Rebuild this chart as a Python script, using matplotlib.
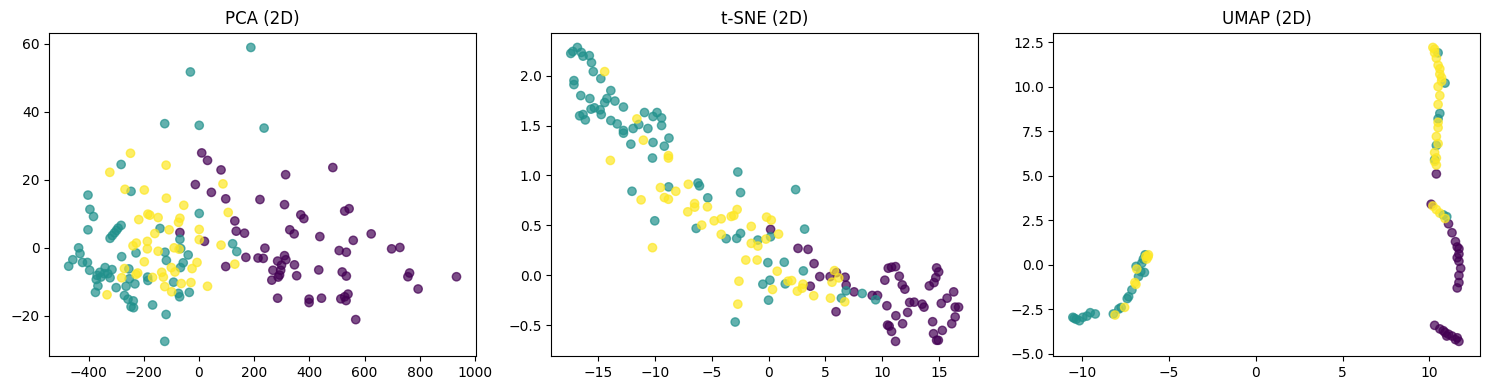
import numpy as np
import matplotlib
matplotlib.use("Agg")
import matplotlib.pyplot as plt

# ---- PCA (2D) ----
pca_0 = [(10,27.9),(31,25.7),(80,22.9),(-13,18.6),(45,16.3),(97,14.4),(221,14.2),(314,21.5),(485,23.6),
         (-69,4.5),(130,7.9),(135,4.9),(165,4.3),(20,1.9),(170,-2.8),(214,-3.0),(97,-5.5),(310,12.7),
         (369,9.7),(380,8.6),(329,5.3),(345,4.1),(438,3.3),(239,-0.1),(233,-3.1),(285,-3.9),(310,-2.3),
         (315,-3.5),(299,-5.1),(296,-6.6),(268,-6.6),(264,-9.5),(287,-8.6),(292,-8.0),(346,-5.0),(354,-8.2),
         (285,-14.8),(399,-15.1),(399,-16.1),(444,-14.8),(434,-6.5),(528,10.8),(544,11.5),(624,4.1),
         (559,2.2),(508,-0.8),(534,-1.3),(519,-7.1),(534,-8.3),(514,-15.0),(528,-14.4),(540,-13.6),
         (533,-15.5),(568,-21.1),(698,-0.3),(728,0.1),(763,-7.4),(757,-8.5),(794,-12.1),(933,-8.5)]
pca_1 = [(188,58.9),(-31,51.7),(-124,36.5),(1,36.0),(236,35.2),(-282,24.5),(-246,16.6),(-402,15.5),
         (-395,11.3),(-382,9.2),(1,10.1),(-282,6.6),(-293,5.8),(-299,5.1),(-306,4.4),(-314,3.6),(-322,2.8),
         (-402,5.3),(-141,5.7),(-69,2.5),(122,1.2),(137,-1.1),(-436,0),(-431,-1.7),(-457,-3.5),(-472,-5.4),
         (-422,-4.3),(-404,-4.3),(-396,-6.6),(-123,-1.3),(-280,-2.6),(-228,-1.5),(-66,-0.2),(-39,-2.1),
         (-118,-3.7),(-57,-4.4),(-186,-8.6),(-185,-9.6),(-254,-6.2),(-252,-9.1),(-264,-11.3),(-232,-10.6),
         (-315,-6.4),(-340,-5.8),(-359,-7.2),(-369,-8.1),(-355,-8.6),(-343,-7.6),(-330,-7.6),(-322,-8.8),
         (-372,-9.3),(-366,-11.2),(-375,-13.1),(-300,-11.7),(-270,-14.0),(-257,-15.1),(-238,-15.6),
         (-246,-17.3),(-237,-17.6),(-168,-16.8),(-119,-19.6),(-124,-27.5),(-92,-10.1),(-74,-13.4),
         (-70,-14.4),(-35,-13.1),(-67,-5.8)]
pca_2 = [(-248,27.8),(-323,22.2),(-119,24.3),(87,18.8),(-268,17.2),(-198,17.0),(-118,14.6),(-55,12.5),
         (-185,9.9),(-178,9.6),(-148,8.9),(106,10.4),(-218,8.3),(-69,8.7),(-74,7.5),(-108,5.3),(1,5.4),
         (-160,4.2),(1,2.4),(-187,1.9),(-227,1.4),(-239,0.6),(80,0.8),(-187,-0.3),(-148,-1.0),(-90,0),
         (-72,-0.4),(-198,-4.1),(130,-4.8),(-7,-4.3),(-25,-6.1),(-100,-5.8),(-87,-7.1),(-135,-7.2),
         (-129,-8.6),(-168,-8.7),(-228,-7.8),(-222,-7.4),(-270,-6.1),(-280,-8.8),(-333,-13.8),(-124,-11.4),
         (-99,-12.9),(-64,-10.5),(-29,-10.2),(31,-11.3)]

# ---- t-SNE (2D) ----
tsne_0 = [(0.18,0.459),(2.59,0.269),(3.47,0.259),(4.0,0.116),(3.67,-0.11),(4.5,-0.014),(5.41,-0.014),
          (5.97,0.026),(6.73,-0.02),(6.82,-0.10),(5.93,-0.366),(7.52,-0.167),(9.11,-0.203),(9.58,-0.203),
          (10.4,-0.306),(10.22,-0.05),(10.52,0.07),(10.81,0.08),(11.16,0.086),(11.49,-0.01),(11.75,-0.097),
          (11.98,-0.14),(11.19,-0.406),(10.46,-0.50),(10.6,-0.51),(10.81,-0.563),(11.16,-0.663),
          (11.78,-0.486),(12.22,-0.373),(12.4,-0.273),(12.8,-0.27),(13.5,-0.29),(13.66,-0.32),
          (14.13,-0.107),(14.54,-0.074),(14.7,-0.024),(14.95,0.033),(14.77,0.073),(14.42,-0.466),
          (14.5,-0.586),(14.77,-0.652),(14.92,-0.652),(15.27,-0.553),(15.18,-0.283),(15.69,-0.23),
          (16.27,-0.167),(16.4,-0.32),(16.7,-0.32),(16.4,-0.418),(16.1,-0.486)]
tsne_1 = [(-17.38,2.222),(-17.2,2.242),(-16.8,2.282),(-16.45,2.232),(-16.3,2.195),(-15.75,2.20),
          (-15.56,2.13),(-15.4,2.04),(-14.74,1.97),(-17.1,1.95),(-17.1,1.91),(-16.5,1.80),(-15.7,1.77),
          (-13.86,1.85),(-14.2,1.77),(-14.4,1.73),(-13.5,1.745),(-12.75,1.685),(-16.6,1.597),(-16.3,1.61),
          (-16.1,1.556),(-15.6,1.664),(-15.3,1.677),(-14.8,1.657),(-14.7,1.61),(-13.86,1.55),(-13.3,1.516),
          (-12.75,1.45),(-12.75,1.423),(-12.1,1.313),(-11.9,1.47),(-11.4,1.51),(-10.9,1.63),(-10.6,1.47),
          (-10.15,1.59),(-9.8,1.63),(-9.4,1.576),(-9.4,1.5),(-10.15,1.33),(-8.75,1.374),(-9.16,1.293),
          (-10.2,1.174),(-2.7,1.034),(-12.0,0.841),(-8.78,0.885),(-6.2,0.924),(-6.07,0.895),(-5.34,0.775),
          (-2.46,0.828),(-10.0,0.545),(-6.36,0.469),(-3.72,0.366),(-2.8,0.369),(-2.46,0.419),(-0.94,0.352),
          (-2.93,-0.469),(-0.5,-0.09),(2.38,0.858),(3.17,0.462),(0.18,0.385),(-0.06,0.126),(1.38,0.13),
          (3.06,0.043),(0.12,-0.05),(0.0,-0.25),(1.47,-0.087),(6.82,-0.157),(6.4,-0.23),(8.23,-0.183),
          (9.41,-0.246)]
tsne_2 = [(-14.4,2.04),(-11.57,1.566),(-11.0,1.353),(-8.8,1.198),(-8.8,1.174),(-13.9,1.15),(-11.2,0.755),
          (-9.5,0.878),(-9.15,0.778),(-8.8,0.761),(-8.15,0.841),(-7.05,0.911),(-10.2,0.276),(-7.1,0.635),
          (-6.5,0.718),(-6.49,0.682),(-5.37,0.685),(-5.87,0.502),(-4.78,0.545),(-4.16,0.565),(-4.16,0.409),
          (-3.28,0.589),(-3.05,0.598),(-2.76,0.658),(-1.52,0.489),(-1.52,0.319),(-2.0,0.152),(-1.0,0.152),
          (-0.94,0.292),(-2.6,-0.06),(-2.7,-0.29),(-0.17,0.582),(0.24,0.552),(0.88,0.412),(-0.23,0.362),
          (0.76,0.04),(0.35,-0.143),(1.71,-0.06),(2.03,-0.054),(2.53,-0.16),(3.03,-0.09),(2.95,-0.13),
          (3.97,-0.206),(5.79,0.046),(6.17,-0.027),(5.58,-0.07),(6.7,-0.267),(5.44,-0.23)]

# ---- UMAP (2D) ----
umap_0 = [(10.4,5.1),(10.1,3.4),(11.1,2.3),(11.3,1.8),(11.5,1.3),(11.6,1.0),(11.7,0.6),(11.7,0.2),
          (11.8,-0.2),(11.7,-0.6),(11.7,-1.0),(11.6,-1.3),(11.7,0.9),(11.6,0.4),(10.3,-3.4),(10.6,-3.6),
          (10.9,-3.8),(11.1,-3.9),(11.3,-4.0),(11.5,-4.2),(11.7,-4.3),(11.6,-4.1),(10.8,-3.7),(11.0,-4.0)]
umap_1 = [(-10.53,-2.95),(-10.45,-3.0),(-10.34,-3.06),(-10.15,-3.14),(-9.96,-2.95),(-9.72,-2.88),
          (-9.53,-2.69),(-9.24,-2.76),(-8.2,-2.76),(-7.88,-2.48),(-7.75,-2.4),(-7.32,-1.79),(-7.4,-1.9),
          (-7.13,-1.41),(-6.75,-0.66),(-6.62,-0.38),(-6.41,-0.43),(-6.89,-0.09),(-6.56,0.09),(-6.47,0.32),
          (-6.37,0.56),(10.9,10.2),(10.6,8.5),(10.5,8.2),(10.4,6.7),(10.3,5.9),(10.5,11.9),(10.8,2.8),
          (11.0,2.7)]
umap_2 = [(-8.1,-2.82),(-7.55,-2.39),(-6.96,-1.0),(-6.9,-1.1),(-6.85,-0.24),(-6.33,0.47),(-6.18,0.56),
          (-6.28,0.32),(-6.2,0.45),(10.2,12.2),(10.3,12.1),(10.3,11.9),(10.4,11.6),(10.5,11.2),(10.6,11.0),
          (10.6,10.7),(10.7,10.5),(10.7,10.3),(10.5,10.0),(10.6,9.5),(10.5,9.0),(10.5,8.0),(10.5,7.7),
          (10.4,7.2),(10.5,6.8),(10.3,6.3),(10.4,6.0),(10.3,5.8),(10.4,5.6),(10.2,3.3),(10.4,3.1),
          (10.6,2.9),(10.9,2.6)]

panels = [("PCA (2D)", [pca_0, pca_1, pca_2]),
          ("t-SNE (2D)", [tsne_0, tsne_1, tsne_2]),
          ("UMAP (2D)", [umap_0, umap_1, umap_2])]

fig, axes = plt.subplots(1, 3, figsize=(14.89, 3.9), dpi=100)
fig.subplots_adjust(left=0.0331, right=0.994, top=0.916, bottom=0.087, wspace=0.177)

for ax, (title, groups) in zip(axes, panels):
    pts = np.array([p for g in groups for p in g])
    labels = np.concatenate([[k] * len(g) for k, g in enumerate(groups)])
    ax.scatter(pts[:, 0], pts[:, 1], c=labels, cmap="viridis", alpha=0.7)
    ax.set_title(title)

fig.savefig("out.png")
